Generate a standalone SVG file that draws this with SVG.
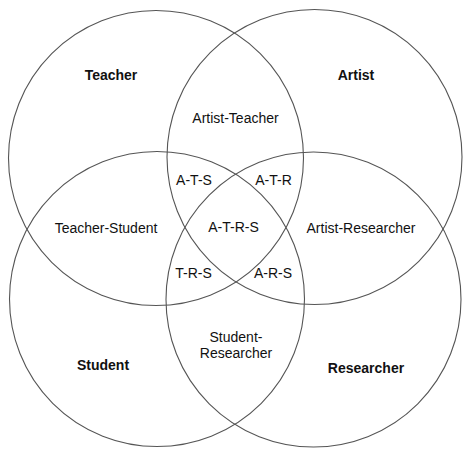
<svg xmlns="http://www.w3.org/2000/svg" width="473" height="458" viewBox="0 0 473 458">
<style>
.c{fill:none;stroke:#555;stroke-width:1.1}
.t{font-family:"Liberation Sans",Arial,sans-serif;font-size:14px;fill:#111;text-anchor:middle}
.b{font-weight:bold}
</style>
<rect width="473" height="458" fill="#fff"/>
<g id="connectors">
<circle id="circle-teacher" class="c" cx="156" cy="158" r="147.5"/>
<circle id="circle-artist" class="c" cx="314.5" cy="157" r="147.5"/>
<circle id="circle-student" class="c" cx="157" cy="299" r="147.5"/>
<circle id="circle-researcher" class="c" cx="313.5" cy="299.5" r="147.5"/>
</g>
<g id="teacher"><text class="t b" x="111" y="80">Teacher</text></g>
<g id="artist"><text class="t b" x="356" y="80">Artist</text></g>
<g id="student"><text class="t b" x="103" y="370">Student</text></g>
<g id="researcher"><text class="t b" x="366" y="373">Researcher</text></g>
<g id="artist-teacher"><text class="t" x="235.5" y="123">Artist-Teacher</text></g>
<g id="teacher-student"><text class="t" x="106" y="233">Teacher-Student</text></g>
<g id="artist-researcher"><text class="t" x="361" y="233">Artist-Researcher</text></g>
<g id="student-researcher"><text class="t" x="236" y="342">Student-</text><text class="t" x="236" y="358">Researcher</text></g>
<g id="a-t-s"><text class="t" x="194" y="185">A-T-S</text></g>
<g id="a-t-r"><text class="t" x="273.5" y="185">A-T-R</text></g>
<g id="a-t-r-s"><text class="t" x="233.5" y="232">A-T-R-S</text></g>
<g id="t-r-s"><text class="t" x="193.5" y="278">T-R-S</text></g>
<g id="a-r-s"><text class="t" x="273" y="278">A-R-S</text></g>
</svg>
